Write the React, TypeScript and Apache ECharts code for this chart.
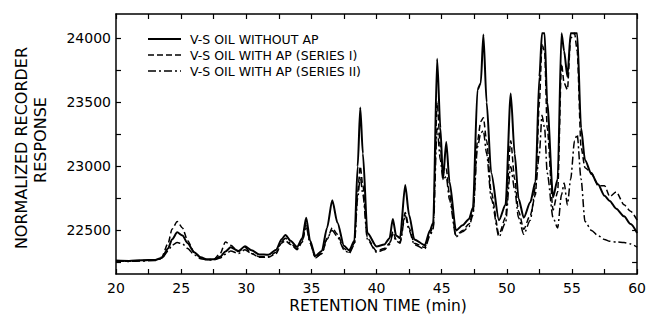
import React, { useEffect, useRef } from "react";
import * as echarts from "echarts";

const times = [
  20, 21, 22, 23, 23.5, 24, 24.3, 24.7, 25.1, 25.5, 26, 26.5, 27, 27.5, 28, 28.4, 28.8, 29.4, 29.9, 30.4,
  31, 31.7, 32.3, 32.7, 33.0, 33.4, 33.9, 34.3, 34.6, 34.9, 35.3, 35.8, 36.2, 36.6, 37.0, 37.5, 37.9, 38.3,
  38.55, 38.75, 38.95, 39.3, 40, 40.6, 41.0, 41.25, 41.5, 41.8, 42.2, 42.5, 42.9, 43.7, 44.1, 44.35, 44.65,
  44.9, 45.1, 45.35, 45.6, 46.1, 46.6, 47.1, 47.4, 47.75, 48.0, 48.2, 48.45, 48.8, 49.4, 49.9, 50.3, 50.6,
  50.9, 51.3, 51.8, 52.2, 52.5, 52.7, 52.9, 53.1, 53.55, 53.9, 54.2, 54.4, 54.65, 54.9, 55.2, 55.4, 55.7,
  56.0, 56.5, 57.0, 57.5, 57.9, 58.4, 59.0, 59.5, 60,
];

const withoutAP = [
  22265, 22262, 22268, 22270, 22285, 22360, 22430, 22485, 22460, 22400, 22330, 22290, 22275, 22275, 22295, 22335, 22368, 22340, 22376, 22345,
  22313, 22310, 22350, 22430, 22465, 22420, 22370, 22440, 22600, 22420, 22300, 22340, 22520, 22735, 22560, 22380, 22345, 22420,
  23000, 23460, 23100, 22480, 22375, 22390, 22440, 22590, 22460, 22440, 22855, 22620, 22430, 22385, 22500, 22560, 23840,
  23300, 22900, 23190, 22880, 22500, 22540, 22590, 22680, 23600, 23650, 24030, 23500, 22950, 22580, 22700, 23570, 23100,
  22750, 22600, 22720, 22880, 23700, 24040, 24040, 23500, 22760, 22900, 24040, 23900, 23700, 24040, 24040, 24040, 23300,
  23050, 22940, 22860, 22770, 22730, 22670, 22610, 22550, 22480,
];

const seriesI = [
  22262, 22260, 22265, 22268, 22290, 22400, 22510, 22570, 22520, 22420, 22330, 22285, 22272, 22275, 22320, 22410, 22385, 22335, 22368, 22320,
  22290, 22290, 22320, 22400, 22420, 22390, 22350, 22410, 22560, 22400, 22290, 22320, 22430, 22520, 22470, 22360, 22330, 22400,
  22800, 23000, 22850, 22440, 22340, 22360, 22400, 22490, 22430, 22410, 22640, 22520, 22400, 22368, 22480, 22530, 23500,
  23150, 22950, 22980, 22780, 22460, 22500, 22550, 22640, 23200, 23350, 23380, 23200, 22800, 22470, 22600, 23200, 22900,
  22650, 22510, 22620, 22780, 23500, 23950, 23900, 23300, 22660, 22800, 23800, 23650, 23600, 24000, 24040, 23900, 23150,
  22990, 22950, 22850, 22850, 22765, 22800, 22700, 22650, 22580,
];

const seriesII = [
  22262, 22258, 22262, 22265, 22280, 22340, 22385, 22405, 22395, 22360, 22310, 22280, 22270, 22270, 22285, 22315, 22340, 22320, 22350, 22320,
  22295, 22295, 22330, 22410, 22440, 22400, 22355, 22420, 22530, 22400, 22285, 22320, 22440, 22500, 22450, 22350, 22320, 22390,
  22750, 22920, 22780, 22430, 22330, 22350, 22390, 22470, 22420, 22400, 22620, 22500, 22390, 22355, 22460, 22510, 23300,
  23050, 22900, 22920, 22740, 22450, 22490, 22530, 22620, 23150, 23260, 23280, 23100, 22750, 22450, 22560, 23000, 22820,
  22600, 22470, 22580, 22840, 23100, 23400, 23300, 22950, 22600, 22520, 22780, 22870, 22700, 22900, 23200, 23250, 22900,
  22570, 22500, 22460, 22430, 22415, 22410, 22405, 22395, 22370,
];

const yTickValues = [22250, 22500, 22750, 23000, 23250, 23500, 23750, 24000];
const yLabelValues = [22500, 23000, 23500, 24000];

const names = [
  "V-S OIL WITHOUT AP",
  "V-S OIL WITH AP (SERIES I)",
  "V-S OIL WITH AP (SERIES II)",
];

const FONT = "DejaVu Sans";

export default function App() {
  const ref = useRef<HTMLDivElement>(null);
  useEffect(() => {
    if (!ref.current) return;
    const chart = echarts.init(ref.current, null, { renderer: "svg" });
    const pair = (vals: number[]) => times.map((t, i) => [t, vals[i]]);
    const axisLine = { show: true, lineStyle: { color: "#000", width: 1.5 } };
    const tick = { show: true, inside: true, length: 5, lineStyle: { color: "#000", width: 1.2 } };
    const xCommon = {
      type: "value",
      min: 20,
      max: 60,
      interval: 2.5,
      splitLine: { show: false },
      axisLine,
      axisTick: tick,
    };
    const yCommon = {
      type: "value",
      min: 22160,
      max: 24190,
      splitLine: { show: false },
      axisLine,
      axisTick: { ...tick, customValues: yTickValues },
    };
    const dashes: any[] = [null, [6, 3], [8, 3, 2, 3]];
    const widths = [2, 1.5, 1.5];
    const lineSeries = (idx: number, vals: number[], z: number) => ({
      name: names[idx],
      type: "line",
      data: pair(vals),
      showSymbol: false,
      symbol: "none",
      smooth: 0.25,
      smoothMonotone: "x",
      z,
      lineStyle: { color: "#000", width: widths[idx], type: dashes[idx] || "solid" },
    });
    const legendGraphics: any[] = [];
    names.forEach((n, i) => {
      const y = 39 + i * 16;
      legendGraphics.push({
        type: "line",
        shape: { x1: 148, y1: y, x2: 181, y2: y },
        style: { stroke: "#000", lineWidth: widths[i], lineDash: dashes[i] || undefined },
      });
      legendGraphics.push({
        type: "text",
        x: 190,
        y,
        style: { text: n, fontFamily: FONT, fontSize: 12.5, fill: "#000", align: "left", verticalAlign: "middle" },
      });
    });
    chart.setOption({
      animation: false,
      backgroundColor: "#fff",
      grid: { left: 116, right: 7, top: 14, bottom: 46, containLabel: false },
      xAxis: [
        {
          ...xCommon,
          position: "bottom",
          axisLabel: {
            show: true,
            color: "#000",
            fontFamily: FONT,
            fontSize: 14,
            margin: 7,
            formatter: (v: number) => (v % 5 === 0 ? String(v) : ""),
          },
        },
        { ...xCommon, position: "top", axisLabel: { show: false } },
      ],
      yAxis: [
        {
          ...yCommon,
          position: "left",
          axisLabel: {
            show: true,
            color: "#000",
            fontFamily: FONT,
            fontSize: 14,
            margin: 5,
            customValues: yLabelValues,
            formatter: (v: number) => String(v),
          },
        },
        { ...yCommon, position: "right", axisLabel: { show: false } },
      ],
      graphic: [
        {
          type: "text",
          x: 21,
          y: 148,
          rotation: Math.PI / 2,
          style: { text: "NORMALIZED RECORDER", fontFamily: FONT, fontSize: 16, fill: "#000", align: "center", verticalAlign: "middle" },
        },
        {
          type: "text",
          x: 40,
          y: 140,
          rotation: Math.PI / 2,
          style: { text: "RESPONSE", fontFamily: FONT, fontSize: 16, fill: "#000", align: "center", verticalAlign: "middle" },
        },
        {
          type: "text",
          x: 378,
          y: 306,
          style: { text: "RETENTION TIME (min)", fontFamily: FONT, fontSize: 15.5, fill: "#000", align: "center", verticalAlign: "middle" },
        },
        ...legendGraphics,
      ],
      series: [
        lineSeries(2, seriesII, 2),
        lineSeries(1, seriesI, 3),
        lineSeries(0, withoutAP, 4),
      ],
    });
    return () => chart.dispose();
  }, []);
  return <div ref={ref} style={{ width: 649, height: 320, position: "absolute", left: 0, top: 0 }} />;
}
